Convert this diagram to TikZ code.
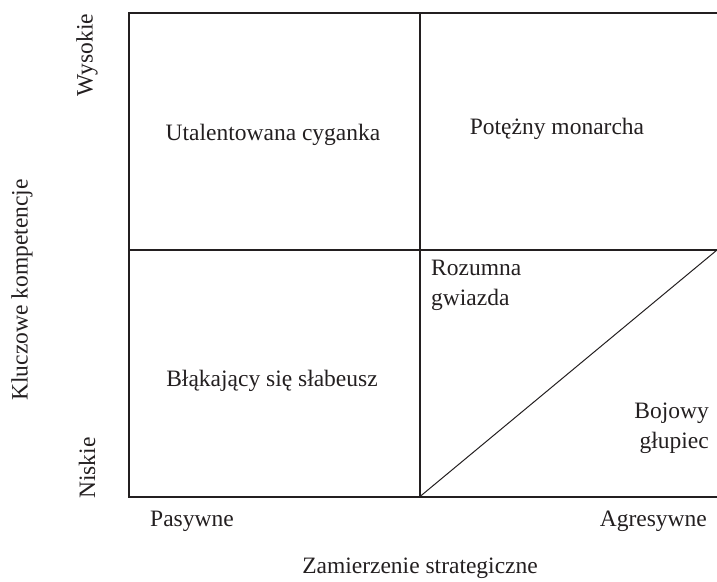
\documentclass[tikz,border=0pt]{standalone}
\usepackage{fontspec}
\setmainfont{Liberation Serif}
\begin{document}
\begin{tikzpicture}[x=1pt,y=-1pt,
  lbl/.style={inner sep=0pt,font=\fontsize{23.5}{30}\selectfont,text=ink},
  frame/.style={line width=2pt,draw=ink},
  thin/.style={line width=1pt,draw=ink}]
\definecolor{ink}{HTML}{231F20}
\useasboundingbox (0,0) rectangle (717,581);
% corner coordinates
\coordinate (tl) at (128.5,13);
\coordinate (tr) at (718,13);
\coordinate (bl) at (128.5,496.5);
\coordinate (br) at (718,496.5);
\coordinate (tm) at (420,13);
\coordinate (bm) at (420,496.5);
\coordinate (ml) at (128.5,250);
\coordinate (mr) at (718,250);
\coordinate (dtop) at (717,250);
\draw[frame] (tr) -- (tl) -- (bl) -- (br);
\draw[frame] (tm) -- (bm);
\draw[frame] (ml) -- (mr);
\draw[thin] (bm) -- (dtop);
% quadrant labels
\node[lbl] (q1) at (273,135) {Utalentowana cyganka};
\node[lbl] (q2) at (557,129) {Potężny monarcha};
\node[lbl,anchor=west,align=left] (q3) at (431,285) {Rozumna\\gwiazda};
\node[lbl] (q4) at (272,381) {Błąkający się słabeusz};
\node[lbl,anchor=east,align=right] (q5) at (709,428) {Bojowy\\głupiec};
% axis labels
\node[lbl,anchor=west] (xl) at (150,521) {Pasywne};
\node[lbl,anchor=east] (xr) at (707,521) {Agresywne};
\node[lbl] (xt) at (420,568) {Zamierzenie strategiczne};
\node[lbl,rotate=90] (yh) at (87,55) {Wysokie};
\node[lbl,rotate=90] (yl) at (87,468) {Niskie};
\node[lbl,rotate=90] (yt) at (22,290) {Kluczowe kompetencje};
\end{tikzpicture}
\end{document}
